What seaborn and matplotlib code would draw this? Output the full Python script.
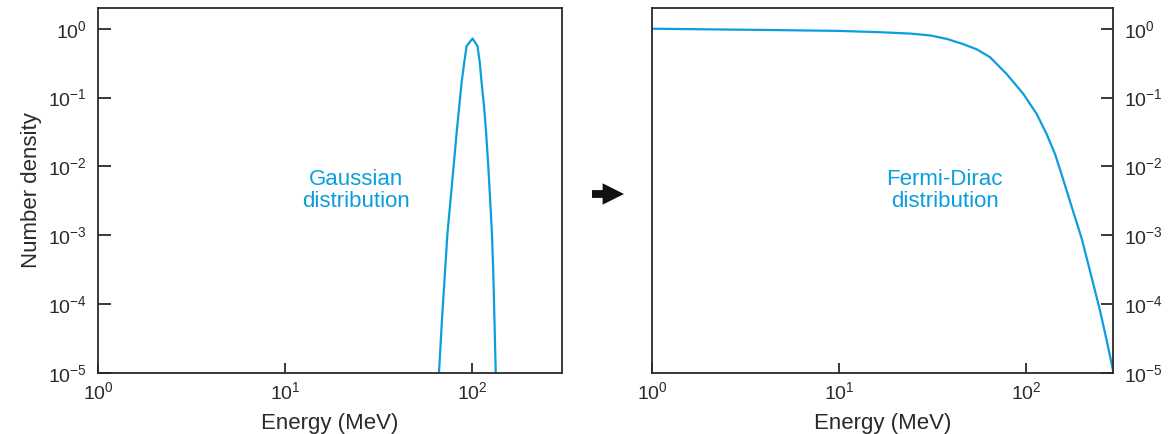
import numpy as np
import pandas as pd
import matplotlib
matplotlib.use("Agg")
import matplotlib.pyplot as plt
import seaborn as sns

# Data
gauss_energy = [66.6, 69.0, 71.7, 74.0, 76.9, 80.0, 82.8, 85.5, 88.0, 91.0, 93.6, 100.7,
                107.0, 110.0, 112.6, 116.0, 119.0, 122.0, 125.0, 128.0, 130.0, 134.0]
gauss_density = [1e-5, 5.5e-5, 2.9e-4, 1.1e-3, 3.4e-3, 0.011, 0.031, 0.075, 0.165, 0.33, 0.56, 0.72,
                 0.56, 0.33, 0.165, 0.075, 0.031, 0.011, 3.4e-3, 1.0e-3, 2.9e-4, 1e-5]

fd_energy = [1, 4, 10, 16.6, 24, 30.7, 37.8, 46, 54.7, 64.2, 78.8, 96.8, 114, 129, 143, 152,
             175, 199, 224, 249, 270, 293]
fd_density = [1.0, 0.96, 0.93, 0.89, 0.85, 0.80, 0.71, 0.60, 0.50, 0.386, 0.22, 0.113, 0.058,
              0.0295, 0.0151, 9.1e-3, 2.67e-3, 8.8e-4, 2.5e-4, 8.0e-5, 3.0e-5, 1.05e-5]

xticks = [1, 10, 100]
yticks = [1, 1e-1, 1e-2, 1e-3, 1e-4, 1e-5]
xtick_labels = [r"$10^{0}$", r"$10^{1}$", r"$10^{2}$"]
ytick_labels = [r"$10^{0}$", r"$10^{-1}$", r"$10^{-2}$", r"$10^{-3}$", r"$10^{-4}$", r"$10^{-5}$"]

sns.set_theme(style="white")
plt.rcParams["font.family"] = ["Liberation Sans", "DejaVu Sans"]
plt.rcParams["mathtext.fontset"] = "custom"
plt.rcParams["mathtext.rm"] = "Liberation Sans"
plt.rcParams["mathtext.it"] = "Liberation Sans"
plt.rcParams["mathtext.bf"] = "Liberation Sans"

line_color = "#0a9fdc"
ink = "#2a2a2a"
W, H = 1172, 434
fig = plt.figure(figsize=(W / 100, H / 100), dpi=100)

def frac(x0, x1, ytop, ybot):
    return [x0 / W, 1 - ybot / H, (x1 - x0) / W, (ybot - ytop) / H]

ax1 = fig.add_axes(frac(98, 562, 8, 373))
ax2 = fig.add_axes(frac(652, 1113, 8, 373))

df_g = pd.DataFrame({"E": gauss_energy, "n": gauss_density})
df_f = pd.DataFrame({"E": fd_energy, "n": fd_density})

sns.lineplot(data=df_g, x="E", y="n", ax=ax1, color=line_color, lw=1.6, sort=False)
sns.lineplot(data=df_f, x="E", y="n", ax=ax2, color=line_color, lw=1.6, sort=False)

for ax in (ax1, ax2):
    ax.set_xscale("log")
    ax.set_yscale("log")
    ax.set_ylim(1e-5, 2.0)
    ax.set_xticks(xticks)
    ax.set_xticklabels(xtick_labels)
    ax.set_yticks(yticks)
    ax.set_yticklabels(ytick_labels)
    ax.minorticks_off()
    ax.tick_params(axis="x", which="major", direction="in", length=7.5, width=1.3,
                   color=ink, labelsize=14, labelcolor=ink, pad=6,
                   bottom=True, top=False)
    for s in ax.spines.values():
        s.set_linewidth(1.3)
        s.set_color(ink)
    ax.set_xlabel("Energy (MeV)", fontsize=16, color=ink, labelpad=7)
    ax.set_ylabel("")

ax1.set_xlim(1, 303)
ax2.set_xlim(1, 292)
ax1.tick_params(axis="y", which="major", direction="in", length=9, width=1.3,
                color=ink, labelsize=14, labelcolor=ink, pad=8,
                left=True, right=False)
ax2.yaxis.tick_right()
ax2.tick_params(axis="y", which="major", direction="in", length=9, width=1.3,
                color=ink, labelsize=14, labelcolor=ink, pad=8,
                left=False, right=True, labelleft=False, labelright=True)

ax1.set_ylabel("Number density", fontsize=16, color=ink, labelpad=4)

ax1.text(0.557, 0.50, "Gaussian\ndistribution", transform=ax1.transAxes,
         ha="center", va="center", fontsize=16, color=line_color, linespacing=1.1)
ax2.text(0.635, 0.50, "Fermi-Dirac\ndistribution", transform=ax2.transAxes,
         ha="center", va="center", fontsize=16, color=line_color, linespacing=1.1)

ax1.annotate("", xy=(624 / W, 1 - 194 / H), xytext=(592 / W, 1 - 194 / H),
             xycoords="figure fraction", textcoords="figure fraction",
             arrowprops=dict(arrowstyle="simple,head_length=1.1,head_width=1.1,tail_width=0.4",
                             mutation_scale=14, fc="#111111", ec="none",
                             shrinkA=0, shrinkB=0))

fig.savefig("out.png", dpi=100)
